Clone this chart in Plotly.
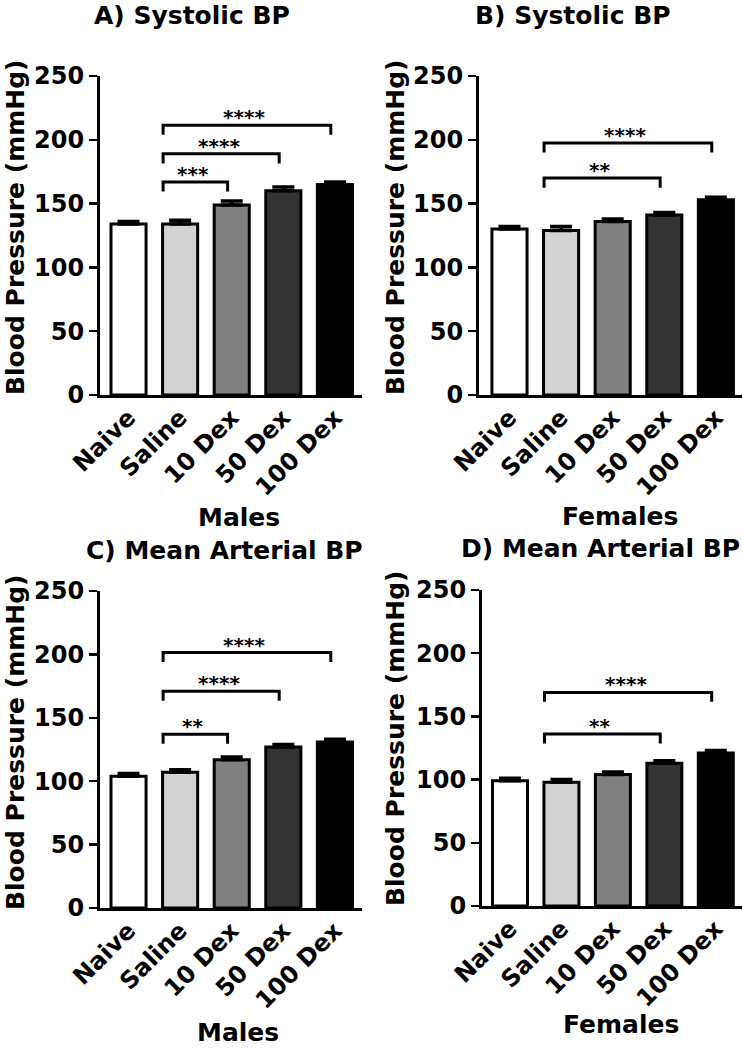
import plotly.graph_objects as go

# ---------------- data ----------------
categories = ["Naive", "Saline", "10 Dex", "50 Dex", "100 Dex"]
bar_colors = ["#ffffff", "#d3d3d3", "#808080", "#333333", "#000000"]

sys_males = [134, 134, 149, 160, 165]
sys_males_sem = [2, 3, 3, 3, 2]
sys_females = [130, 129, 136, 141, 153]
sys_females_sem = [2, 3, 2, 2, 2]
map_males = [104, 107, 117, 127, 131]
map_males_sem = [2, 2, 2, 2, 2]
map_females = [99, 98, 104, 113, 121]
map_females_sem = [2, 2, 2, 2, 2]

panel_titles = ["A) Systolic BP", "B) Systolic BP", "C) Mean Arterial BP", "D) Mean Arterial BP"]
group_labels = ["Males", "Females", "Males", "Females"]
y_title = "Blood Pressure (mmHg)"
y_ticks = [0, 50, 100, 150, 200, 250]

# significance comparisons: (from index, to index, label, bracket height in mmHg)
sig_A = [(1, 2, "***", 167), (1, 3, "****", 189), (1, 4, "****", 211.5)]
sig_B = [(1, 3, "**", 170), (1, 4, "****", 197.5)]
sig_C = [(1, 2, "**", 137), (1, 3, "****", 171), (1, 4, "****", 201.5)]
sig_D = [(1, 3, "**", 136), (1, 4, "****", 169)]

values = [sys_males, sys_females, map_males, map_females]
sems = [sys_males_sem, sys_females_sem, map_males_sem, map_females_sem]
sigs = [sig_A, sig_B, sig_C, sig_D]

# ---------------- layout geometry (pixels) ----------------
W, H = 743, 1049
# (x_left, x_right, y_top(250), y_bottom(0), x_range_start, x_range_end)
geom = [
    (100, 362, 76, 395, -0.553, 4.525),
    (479, 742, 76, 395, -0.591, 4.506),
    (100, 362, 591, 908, -0.553, 4.525),
    (482, 742, 590, 906, -0.544, 4.509),
]
title_pos = [(191.5, 15), (573, 15), (224, 550), (600, 548)]
ytitle_pos = [(15, 227), (395, 227), (15, 742), (395, 738)]
group_pos = [(239, 517), (620, 516), (238, None), (621, 1024)]

FONT = "DejaVu Sans"

def px_x(p):
    return p / W

def px_y(p):
    return 1 - p / H

fig = go.Figure()
layout = dict(
    width=W, height=H, margin=dict(l=0, r=0, t=0, b=0, autoexpand=False),
    paper_bgcolor="white", plot_bgcolor="white", showlegend=False,
    template="none",
)
annotations = []
shapes = []

for i in range(4):
    xl, xr, yt, yb, r0, r1 = geom[i]
    xa = "xaxis" if i == 0 else f"xaxis{i+1}"
    ya = "yaxis" if i == 0 else f"yaxis{i+1}"
    xref = "x" if i == 0 else f"x{i+1}"
    yref = "y" if i == 0 else f"y{i+1}"

    fig.add_trace(go.Bar(
        x=list(range(len(categories))), y=values[i],
        marker=dict(color=bar_colors, line=dict(color="black", width=3)),
        width=0.68,
        error_y=dict(type="data", array=sems[i], arrayminus=[0] * len(categories),
                     symmetric=False, color="black", thickness=3.5, width=11),
        xaxis=xref, yaxis=yref, hoverinfo="skip",
    ))

    layout[xa] = dict(
        domain=[px_x(xl), px_x(xr)], range=[r0, r1], anchor=yref, automargin=False,
        tickvals=list(range(len(categories))), ticktext=categories,
        tickangle=-45, ticks="", showgrid=False, zeroline=False, ticklabelstandoff=-4,
        showline=True, linecolor="black", linewidth=3,
        tickfont=dict(family=FONT, size=24, color="black", weight="bold"),
    )
    layout[ya] = dict(
        domain=[px_y(yb), px_y(yt)], range=[0, 250], anchor=xref, automargin=False,
        tickvals=y_ticks, ticks="outside", ticklen=8, tickwidth=2.5, tickcolor="black",
        showgrid=False, zeroline=False, showline=True, linecolor="black", linewidth=3,
        tickfont=dict(family=FONT, size=24, color="black", weight="bold"),
    )

    # significance brackets
    for (a, b, lab, h) in sigs[i]:
        x1 = a - 0.33
        x2 = b - 0.08
        d = 7.5
        shapes.append(dict(
            type="path", xref=xref, yref=yref,
            path=f"M {x1},{h - d} L {x1},{h} L {x2},{h} L {x2},{h - d}",
            line=dict(color="black", width=3),
        ))
        annotations.append(dict(
            x=(x1 + x2) / 2 - 0.05, y=h, xref=xref, yref=yref,
            text=lab, showarrow=False, xanchor="center", yanchor="bottom", yshift=-6,
            font=dict(family=FONT, size=20, color="black", weight="bold"),
        ))

    tx, ty = title_pos[i]
    annotations.append(dict(
        x=px_x(tx), y=px_y(ty), xref="paper", yref="paper", text=panel_titles[i],
        showarrow=False, xanchor="center", yanchor="middle",
        font=dict(family=FONT, size=25, color="black", weight="bold"),
    ))
    qx, qy = ytitle_pos[i]
    annotations.append(dict(
        x=px_x(qx), y=px_y(qy), xref="paper", yref="paper", text=y_title,
        showarrow=False, xanchor="center", yanchor="middle", textangle=-90,
        font=dict(family=FONT, size=25, color="black", weight="bold"),
    ))
    gx, gy = group_pos[i]
    if gy is None:
        gpos = dict(y=0, yanchor="bottom")
    else:
        gpos = dict(y=px_y(gy), yanchor="middle")
    annotations.append(dict(
        x=px_x(gx), xref="paper", yref="paper", text=group_labels[i],
        showarrow=False, xanchor="center", **gpos,
        font=dict(family=FONT, size=25, color="black", weight="bold"),
    ))

layout["annotations"] = annotations
layout["shapes"] = shapes
fig.update_layout(**layout)
fig.write_html(
    "out.html",
    config={"displayModeBar": False, "staticPlot": True},
    post_script="document.body.style.margin='0';document.body.style.padding='0';"
                "document.body.style.overflow='hidden';",
)
